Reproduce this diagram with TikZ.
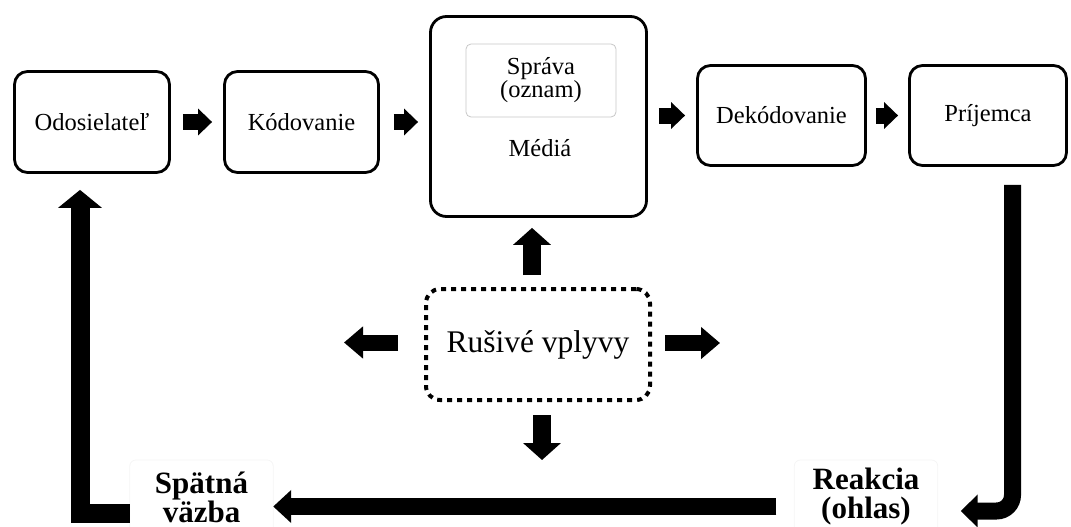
\documentclass[tikz,border=0pt]{standalone}
\usepackage{fontspec}
\setmainfont{Liberation Serif}
\usetikzlibrary{arrows.meta}
\begin{document}
\begin{tikzpicture}[x=1pt,y=-1pt,
  boxst/.style={draw, line width=2.8pt, rounded corners=13pt, inner sep=0pt,
    align=center, font=\fontsize{24.5}{24}\selectfont},
  plain/.style={inner sep=0pt, align=center, font=\fontsize{24.5}{24}\selectfont},
  lbl/.style={inner sep=0pt, minimum width=143pt, align=center,
    font=\fontsize{31}{29}\selectfont\bfseries},
  faint/.style={draw=black!4, line width=0.8pt, rounded corners=6pt},
  fat/.style={line width=16pt, -{Triangle[width=26pt,length=14pt]}},
  fatm/.style={line width=18pt, -{Triangle[width=37pt,length=17pt]}},
  fath/.style={line width=16pt, -{Triangle[width=31pt,length=19pt]}},
  fatb/.style={line width=17pt, -{Triangle[width=32pt,length=18pt]}},
  fatL/.style={line width=19pt, line join=miter, -{Triangle[width=43pt,length=18pt]}},
  fatJ/.style={line width=17pt, rounded corners=16pt, -{Triangle[width=32pt,length=17pt]}}
]
\useasboundingbox (0,0) rectangle (1071,527);

% top row
\node[boxst, minimum width=155pt, minimum height=101pt] (odos) at (92,122) {Odosielateľ};
\node[boxst, minimum width=154pt, minimum height=101pt] (kod) at (301.5,122) {Kódovanie};
\node[boxst, rounded corners=16pt, minimum width=216pt, minimum height=200pt] (media) at (538.5,116.5) {};
\node[draw=black!22, line width=0.8pt, rounded corners=5pt, minimum width=150pt, minimum height=73pt,
  inner sep=0pt, align=center, font=\fontsize{24.5}{23}\selectfont] (msg) at (541,80.5) {Správa\\(oznam)};
\node[plain] (medtxt) at (540,148) {Médiá};
\node[boxst, minimum width=168pt, minimum height=100pt] (dekod) at (781.5,115.5) {Dekódovanie};
\node[boxst, minimum width=157pt, minimum height=100pt] (prij) at (988,115.5) {Príjemca};

% noise
\node[draw, line width=4pt, dash pattern=on 5pt off 5pt, rounded corners=14pt,
  minimum width=224pt, minimum height=111pt, inner sep=0pt,
  font=\fontsize{31.5}{32}\selectfont] (noise) at (538,344.5) {Rušivé vplyvy};

% bottom labels
\node[lbl] (spat) at (201.5,497) {Spätná\\väzba};
\node[lbl] (reak) at (866,497) {Reakcia\\(ohlas)};
\draw[faint] (spat.west |- 0,460) rectangle (spat.east |- 0,545);
\draw[faint] (reak.west |- 0,460) rectangle (reak.east |- 0,545);

% coordinates for free ends
\coordinate (upx) at (532,0);
\coordinate (dnx) at (542,460);
\coordinate (lfx) at (344,342.5);
\coordinate (rtx) at (720,343);
\coordinate (boty) at (0,506.5);
\coordinate (lft) at (80,513);
\coordinate (jx) at (1012.5,511);

% top row arrows
\draw[fat, shorten <=12pt, shorten >=11pt] (odos.east) -- (kod.west);
\draw[fat, shorten <=14pt, shorten >=11pt] (kod.east) -- (kod.east -| media.west);
\draw[fat, shorten <=11pt, shorten >=11pt] (dekod.west -| media.east) -- (dekod.west);
\draw[fat, shorten <=9pt, shorten >=10pt] (dekod.east) -- (prij.west);

% noise arrows
\draw[fatm, shorten <=12pt, shorten >=10pt] (upx |- noise.north) -- (upx |- media.south);
\draw[fatm, shorten <=13pt] (dnx |- noise.south) -- (dnx);
\draw[fath, shorten <=26pt] (noise.west |- lfx) -- (lfx);
\draw[fath, shorten <=13pt] (noise.east |- rtx) -- (rtx);

% feedback loop
\draw[fatJ, shorten <=18pt, shorten >=23pt] (jx |- prij.south) |- (reak.east |- jx);
\draw[fatb, shorten <=18pt] (reak.west |- boty) -- (spat.east |- boty);
\draw[fatL, shorten >=16pt] (spat.west |- lft) -| (lft |- odos.south);
\end{tikzpicture}
\end{document}
